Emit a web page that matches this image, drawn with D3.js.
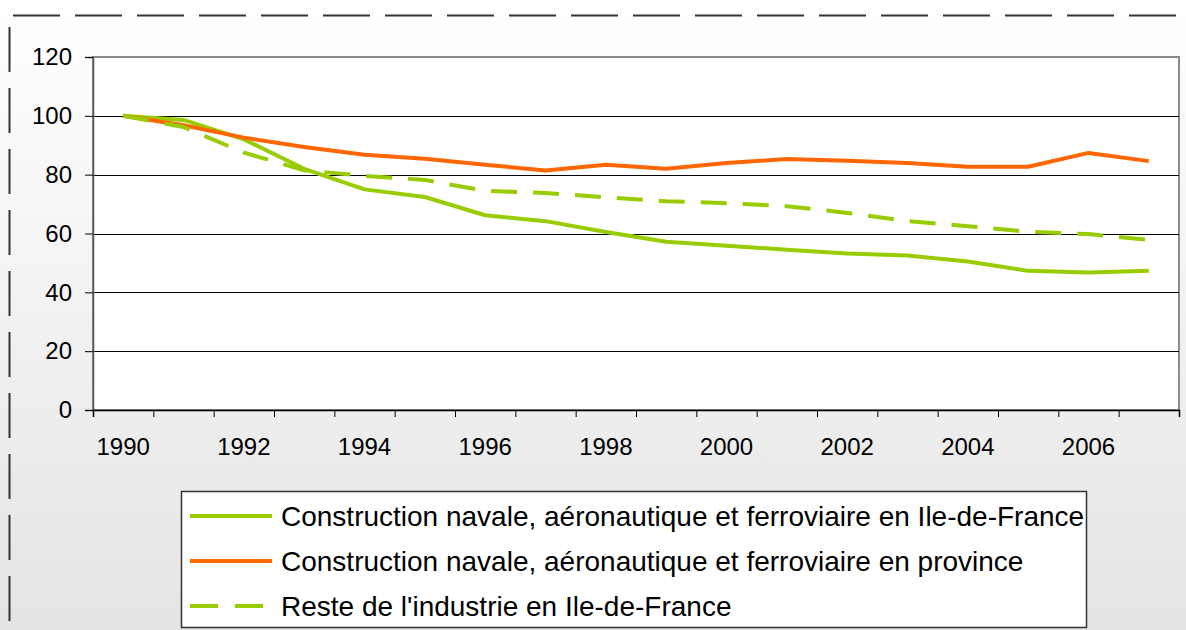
<!DOCTYPE html>
<html>
<head>
<meta charset="utf-8">
<script src="https://cdn.jsdelivr.net/npm/d3@7"></script>
<style>
  body { margin: 0; padding: 0; }
  svg { display: block; font-family: "Liberation Sans", Arial, sans-serif; }
</style>
</head>
<body>
<script>
// Data (index, 1990 = 100)
const years = d3.range(1990, 2008);
const tickYears = [1990, 1992, 1994, 1996, 1998, 2000, 2002, 2004, 2006];
const yTicks = [0, 20, 40, 60, 80, 100, 120];

const idfConstruction = [100, 98.6, 92, 82, 75, 72.4, 66.2, 64.2, 60.5, 57.2, 55.8, 54.5, 53.2, 52.5, 50.5, 47.3, 46.7, 47.3];
const provConstruction = [100, 96.8, 92.6, 89.4, 86.8, 85.4, 83.4, 81.4, 83.4, 82, 84, 85.3, 84.7, 84, 82.7, 82.7, 87.4, 84.6];
const idfReste = [100, 96.2, 87.5, 81.5, 79.6, 78.2, 74.5, 73.8, 72.3, 71, 70.3, 69.3, 67, 64.2, 62.5, 60.6, 59.8, 57.8];

const seriesNames = [
  "Construction navale, aéronautique et ferroviaire en Ile-de-France",
  "Construction navale, aéronautique et ferroviaire en province",
  "Reste de l'industrie en Ile-de-France"
];

const series = [
  { name: seriesNames[0], values: idfConstruction, color: "#99cc00", dash: null },
  { name: seriesNames[1], values: provConstruction, color: "#ff6600", dash: null },
  { name: seriesNames[2], values: idfReste, color: "#99cc00", dash: "26,16" }
];

const W = 1186, H = 630;
const plot = { left: 93, top: 57, right: 1179, bottom: 410 };

const svg = d3.select("body").append("svg")
    .attr("width", W)
    .attr("height", H);

// background gradient
const grad = svg.append("defs").append("linearGradient")
    .attr("id", "bg").attr("x1", 0).attr("y1", 0).attr("x2", 0).attr("y2", 1);
grad.append("stop").attr("offset", "0%").attr("stop-color", "#ffffff");
grad.append("stop").attr("offset", "100%").attr("stop-color", "#e4e4e4");
svg.append("rect").attr("width", W).attr("height", H).attr("fill", "url(#bg)");

// dashed frame (top + left)
svg.append("line")
    .attr("x1", 13).attr("x2", W).attr("y1", 15.5).attr("y2", 15.5)
    .attr("stroke", "#333").attr("stroke-width", 2).attr("stroke-dasharray", "47,15");
svg.append("line")
    .attr("x1", 9.5).attr("x2", 9.5).attr("y1", 27).attr("y2", H)
    .attr("stroke", "#333").attr("stroke-width", 2).attr("stroke-dasharray", "45,16");

// scales
const x = d3.scaleBand().domain(years).range([plot.left, plot.right]);
const y = d3.scaleLinear().domain([0, 120]).range([plot.bottom, plot.top]);

// plot area
svg.append("rect")
    .attr("x", plot.left).attr("y", plot.top)
    .attr("width", plot.right - plot.left).attr("height", plot.bottom - plot.top)
    .attr("fill", "#fff").attr("stroke", "#8c8c8c").attr("stroke-width", 2);

// gridlines
svg.append("g").selectAll("line")
    .data(yTicks.filter(d => d > 0 && d < 120))
    .enter().append("line")
    .attr("x1", plot.left).attr("x2", plot.right)
    .attr("y1", d => Math.round(y(d)) + 0.5).attr("y2", d => Math.round(y(d)) + 0.5)
    .attr("stroke", "#000").attr("stroke-width", 1);

// y axis
const yAxis = svg.append("g")
    .attr("transform", `translate(${plot.left},0)`)
    .call(d3.axisLeft(y).tickValues(yTicks).tickSize(8).tickPadding(13));
yAxis.select(".domain").attr("stroke", "#555").attr("stroke-width", 1.5);
yAxis.selectAll(".tick line").attr("stroke", "#000");
yAxis.selectAll(".tick text").attr("font-size", 24).attr("fill", "#000")
    .attr("font-family", "Liberation Sans, Arial, sans-serif");

// x axis: ticks on band edges, labels every other year
const edgeScale = d3.scaleLinear().domain([0, years.length]).range([plot.left, plot.right]);
const xAxis = svg.append("g")
    .attr("transform", `translate(0,${plot.bottom})`)
    .call(d3.axisBottom(edgeScale).tickValues(d3.range(0, years.length + 1)).tickSize(7).tickFormat(""));
xAxis.select(".domain").attr("stroke", "#000").attr("stroke-width", 1.5);
xAxis.selectAll(".tick line").attr("stroke", "#000");

svg.append("g").selectAll("text")
    .data(tickYears)
    .enter().append("text")
    .attr("x", d => x(d) + x.bandwidth() / 2)
    .attr("y", 447)
    .attr("dy", "0.35em")
    .attr("text-anchor", "middle")
    .attr("font-size", 24)
    .attr("fill", "#000")
    .text(d => d);

// lines
const line = d3.line()
    .x((d, i) => x(years[i]) + x.bandwidth() / 2)
    .y(d => y(d));

svg.append("g").selectAll("path")
    .data(series)
    .enter().append("path")
    .attr("d", d => line(d.values))
    .attr("fill", "none")
    .attr("stroke", d => d.color)
    .attr("stroke-width", 4)
    .attr("stroke-dasharray", d => d.dash)
    .attr("stroke-linejoin", "round");

// legend
const legend = svg.append("g");
legend.append("rect")
    .attr("x", 181.5).attr("y", 491.5).attr("width", 905).attr("height", 136)
    .attr("fill", "#fff").attr("stroke", "#333").attr("stroke-width", 1.5);

const rows = legend.selectAll(".row")
    .data(series)
    .enter().append("g")
    .attr("transform", (d, i) => `translate(0,${516 + i * 45})`);

rows.append("line")
    .attr("x1", 190).attr("x2", 272)
    .attr("stroke", d => d.color)
    .attr("stroke-width", 4)
    .attr("stroke-dasharray", d => d.dash ? "28,17" : null);

rows.append("text")
    .attr("x", 281)
    .attr("dy", "0.35em")
    .attr("font-size", 28)
    .attr("fill", "#000")
    .text(d => d.name);
</script>
</body>
</html>
